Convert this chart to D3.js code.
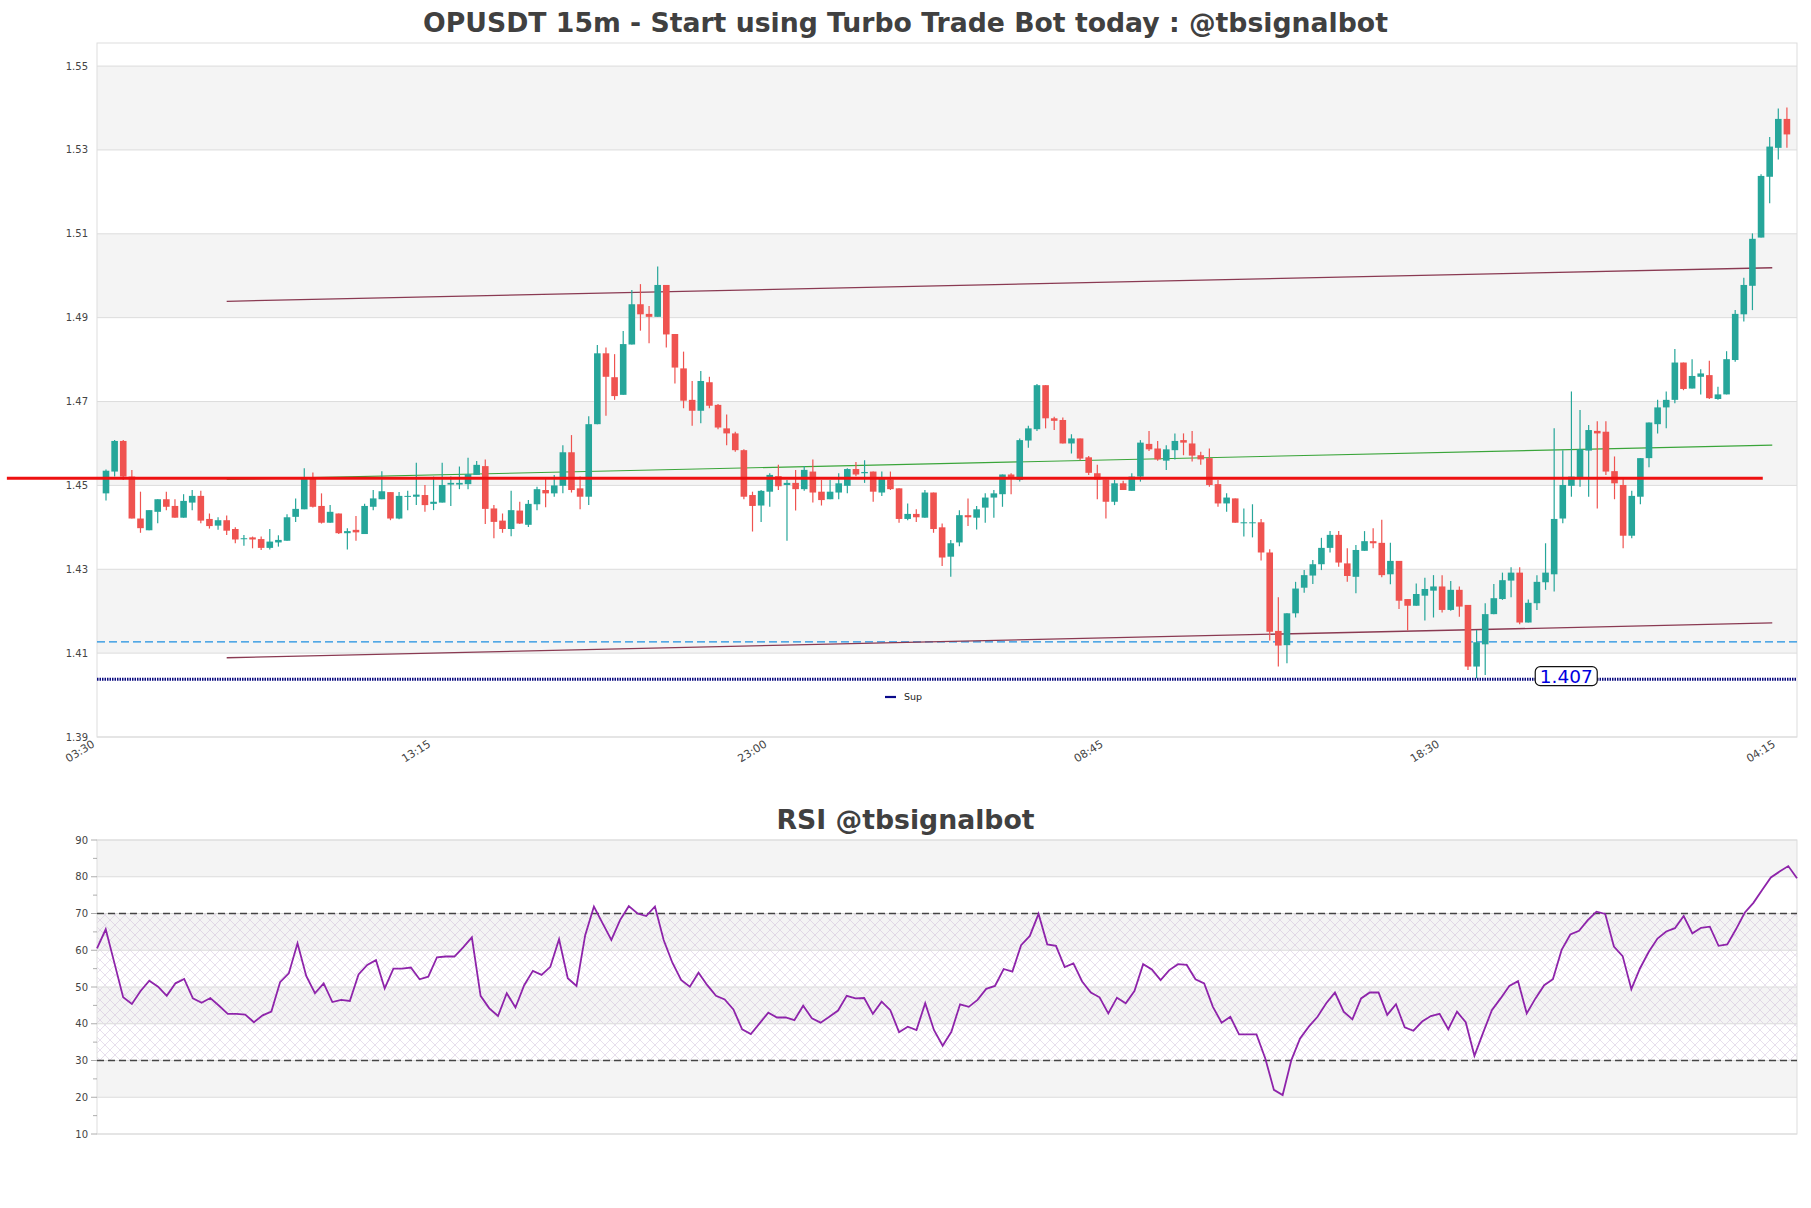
<!DOCTYPE html>
<html><head><meta charset="utf-8">
<script src="https://cdn.jsdelivr.net/npm/d3@7"></script>
<style>body{margin:0;background:#fff;} svg{display:block;font-family:"DejaVu Sans",sans-serif;}</style>
</head><body><svg id="c" width="1811" height="1208"></svg>
<script>
// ---------------- data ----------------
const opens=[1.4481,1.4533,1.4606,1.4521,1.4421,1.4393,1.4437,1.4467,1.4451,1.4423,1.4459,1.4475,1.4420,1.4404,1.4417,1.4396,1.4372,1.4376,1.4372,1.4351,1.4364,1.4368,1.4425,1.4443,1.4519,1.4451,1.4411,1.4433,1.4386,1.4394,1.4384,1.4449,1.4467,1.4484,1.4421,1.4473,1.4473,1.4477,1.4456,1.4459,1.4502,1.4502,1.4503,1.4525,1.4546,1.4445,1.4416,1.4396,1.4440,1.4406,1.4455,1.4489,1.4481,1.4499,1.4579,1.4493,1.4473,1.4646,1.4815,1.4758,1.4716,1.4836,1.4932,1.4909,1.4902,1.4978,1.4861,1.4779,1.4704,1.4678,1.4746,1.4692,1.4636,1.4624,1.4584,1.4477,1.4452,1.4485,1.4522,1.4501,1.4506,1.4491,1.4533,1.4485,1.4467,1.4483,1.4499,1.4539,1.4529,1.4533,1.4483,1.4514,1.4493,1.4420,1.4432,1.4423,1.4483,1.4400,1.4330,1.4364,1.4429,1.4423,1.4447,1.4471,1.4479,1.4526,1.4513,1.4607,1.4634,1.4739,1.4660,1.4656,1.4600,1.4612,1.4567,1.4529,1.4514,1.4461,1.4505,1.4487,1.4521,1.4599,1.4588,1.4559,1.4584,1.4608,1.4600,1.4572,1.4565,1.4503,1.4457,1.4469,1.4411,1.4411,1.4412,1.4340,1.4153,1.4119,1.4195,1.4256,1.4285,1.4312,1.4351,1.4382,1.4314,1.4282,1.4344,1.4367,1.4363,1.4288,1.4320,1.4229,1.4213,1.4237,1.4249,1.4259,1.4203,1.4251,1.4215,1.4068,1.4121,1.4193,1.4229,1.4273,1.4292,1.4173,1.4219,1.4269,1.4288,1.4421,1.4499,1.4517,1.4583,1.4630,1.4628,1.4534,1.4501,1.4380,1.4473,1.4565,1.4646,1.4686,1.4704,1.4793,1.4731,1.4759,1.4763,1.4706,1.4717,1.4799,1.4908,1.4976,1.5091,1.5236,1.5305,1.5374];
const highs=[1.4538,1.4608,1.4608,1.4537,1.4485,1.4441,1.4467,1.4485,1.4467,1.4479,1.4489,1.4487,1.4433,1.4424,1.4428,1.4400,1.4382,1.4378,1.4378,1.4396,1.4381,1.4431,1.4469,1.4541,1.4531,1.4481,1.4453,1.4433,1.4398,1.4427,1.4456,1.4489,1.4534,1.4484,1.4484,1.4487,1.4554,1.4501,1.4521,1.4554,1.4521,1.4545,1.4566,1.4558,1.4562,1.4453,1.4433,1.4487,1.4461,1.4465,1.4497,1.4517,1.4525,1.4596,1.4620,1.4521,1.4665,1.4835,1.4829,1.4813,1.4868,1.4966,1.4980,1.4928,1.5022,1.4978,1.4861,1.4819,1.4749,1.4773,1.4759,1.4694,1.4669,1.4628,1.4586,1.4485,1.4489,1.4529,1.4549,1.4513,1.4537,1.4546,1.4562,1.4513,1.4513,1.4529,1.4541,1.4556,1.4560,1.4533,1.4533,1.4533,1.4493,1.4457,1.4443,1.4489,1.4483,1.4409,1.4370,1.4441,1.4469,1.4451,1.4481,1.4489,1.4526,1.4529,1.4612,1.4642,1.4742,1.4739,1.4664,1.4662,1.4622,1.4612,1.4570,1.4549,1.4514,1.4513,1.4511,1.4529,1.4608,1.4630,1.4606,1.4596,1.4624,1.4624,1.4630,1.4580,1.4588,1.4513,1.4481,1.4469,1.4445,1.4455,1.4420,1.4348,1.4233,1.4195,1.4270,1.4298,1.4322,1.4375,1.4391,1.4391,1.4350,1.4358,1.4391,1.4398,1.4418,1.4363,1.4320,1.4229,1.4266,1.4280,1.4286,1.4286,1.4272,1.4259,1.4215,1.4155,1.4219,1.4265,1.4292,1.4305,1.4305,1.4228,1.4286,1.4362,1.4636,1.4584,1.4724,1.4680,1.4644,1.4653,1.4653,1.4569,1.4517,1.4487,1.4565,1.4650,1.4704,1.4724,1.4825,1.4793,1.4801,1.4777,1.4797,1.4735,1.4820,1.4918,1.4995,1.5101,1.5242,1.5331,1.5399,1.5401];
const lows=[1.4464,1.4521,1.4513,1.4421,1.4387,1.4393,1.4410,1.4441,1.4423,1.4423,1.4441,1.4410,1.4397,1.4394,1.4382,1.4362,1.4356,1.4350,1.4346,1.4347,1.4354,1.4368,1.4413,1.4443,1.4447,1.4409,1.4411,1.4384,1.4347,1.4368,1.4384,1.4441,1.4467,1.4417,1.4419,1.4441,1.4453,1.4437,1.4441,1.4459,1.4451,1.4491,1.4491,1.4525,1.4408,1.4374,1.4387,1.4379,1.4408,1.4401,1.4441,1.4448,1.4473,1.4481,1.4483,1.4443,1.4453,1.4646,1.4666,1.4704,1.4716,1.4836,1.4869,1.4839,1.4902,1.4829,1.4743,1.4684,1.4642,1.4648,1.4684,1.4634,1.4596,1.4580,1.4467,1.4390,1.4413,1.4449,1.4489,1.4368,1.4440,1.4487,1.4459,1.4452,1.4467,1.4467,1.4481,1.4522,1.4506,1.4461,1.4475,1.4489,1.4411,1.4417,1.4413,1.4423,1.4387,1.4308,1.4282,1.4355,1.4403,1.4395,1.4411,1.4423,1.4449,1.4479,1.4509,1.4590,1.4630,1.4636,1.4632,1.4600,1.4576,1.4560,1.4525,1.4467,1.4421,1.4453,1.4489,1.4487,1.4509,1.4582,1.4559,1.4537,1.4562,1.4572,1.4557,1.4549,1.4497,1.4449,1.4437,1.4411,1.4378,1.4376,1.4321,1.4130,1.4068,1.4076,1.4185,1.4244,1.4265,1.4298,1.4340,1.4306,1.4270,1.4243,1.4344,1.4350,1.4281,1.4264,1.4205,1.4154,1.4213,1.4178,1.4185,1.4197,1.4201,1.4187,1.4060,1.4040,1.4048,1.4193,1.4227,1.4233,1.4169,1.4173,1.4203,1.4251,1.4247,1.4410,1.4473,1.4497,1.4473,1.4445,1.4525,1.4467,1.4350,1.4374,1.4455,1.4543,1.4624,1.4636,1.4696,1.4727,1.4731,1.4717,1.4706,1.4704,1.4717,1.4795,1.4891,1.4918,1.5091,1.5173,1.5277,1.5305];
const closes=[1.4535,1.4606,1.4521,1.4421,1.4398,1.4441,1.4467,1.4449,1.4423,1.4463,1.4475,1.4416,1.4403,1.4417,1.4392,1.4371,1.4374,1.4371,1.4351,1.4366,1.4370,1.4424,1.4444,1.4517,1.4449,1.4411,1.4437,1.4386,1.4391,1.4388,1.4451,1.4469,1.4486,1.4421,1.4475,1.4475,1.4478,1.4453,1.4461,1.4501,1.4506,1.4506,1.4527,1.4549,1.4444,1.4413,1.4396,1.4441,1.4409,1.4456,1.4491,1.4481,1.4500,1.4579,1.4489,1.4473,1.4646,1.4815,1.4759,1.4713,1.4837,1.4932,1.4908,1.4902,1.4978,1.4860,1.4781,1.4702,1.4678,1.4749,1.4690,1.4638,1.4624,1.4584,1.4473,1.4451,1.4487,1.4525,1.4498,1.4506,1.4491,1.4537,1.4483,1.4465,1.4485,1.4505,1.4539,1.4526,1.4532,1.4485,1.4519,1.4491,1.4420,1.4432,1.4424,1.4483,1.4396,1.4328,1.4362,1.4429,1.4424,1.4443,1.4471,1.4481,1.4526,1.4517,1.4608,1.4636,1.4739,1.4660,1.4654,1.4600,1.4612,1.4564,1.4530,1.4514,1.4461,1.4505,1.4489,1.4521,1.4602,1.4586,1.4562,1.4586,1.4606,1.4602,1.4571,1.4562,1.4501,1.4457,1.4471,1.4411,1.4412,1.4412,1.4340,1.4151,1.4118,1.4195,1.4254,1.4286,1.4312,1.4351,1.4382,1.4316,1.4284,1.4346,1.4367,1.4362,1.4286,1.4320,1.4225,1.4213,1.4241,1.4253,1.4259,1.4203,1.4251,1.4211,1.4068,1.4126,1.4193,1.4231,1.4274,1.4292,1.4173,1.4220,1.4270,1.4292,1.4420,1.4501,1.4521,1.4586,1.4632,1.4624,1.4533,1.4505,1.4380,1.4475,1.4565,1.4650,1.4686,1.4704,1.4793,1.4730,1.4761,1.4767,1.4708,1.4717,1.4801,1.4909,1.4978,1.5088,1.5238,1.5308,1.5374,1.5337];
const rsiValues=[60.5,65.7,56.5,47.2,45.4,48.9,51.7,50.1,47.6,51.0,52.2,46.9,45.7,47.0,44.9,42.7,42.7,42.5,40.4,42.3,43.3,51.3,53.7,61.9,53.0,48.3,51.0,45.9,46.5,46.2,53.4,56.0,57.3,49.6,55.0,55.0,55.3,52.1,52.8,58.1,58.3,58.3,60.8,63.5,47.6,44.2,42.1,48.3,44.4,50.5,54.4,53.3,55.5,63.0,52.4,50.3,64.1,71.9,67.3,62.8,68.2,72.0,70.0,69.3,71.9,62.8,56.6,51.9,50.1,53.9,50.5,47.6,46.6,43.9,38.5,37.2,40.1,43.0,41.7,41.7,41.0,44.9,41.5,40.3,41.9,43.6,47.6,46.9,47.0,42.7,46.0,43.7,37.7,39.2,38.3,45.6,38.3,34.0,37.8,45.3,44.6,46.5,49.5,50.3,54.9,54.2,61.4,63.9,69.9,61.6,61.2,55.4,56.4,51.5,48.5,47.2,42.8,47.1,45.6,48.9,56.2,54.8,51.9,54.6,56.2,56.0,52.1,51.0,44.6,40.3,41.9,37.1,37.1,37.1,30.6,22.0,20.6,30.1,36.0,39.2,41.9,45.6,48.5,43.3,41.2,46.9,48.5,48.5,42.4,45.3,39.0,38.1,40.6,42.1,42.7,38.5,43.3,40.4,31.3,37.6,43.7,46.9,50.3,51.6,42.8,46.9,50.5,52.1,60.1,64.3,65.3,68.2,70.5,69.9,61.0,58.4,49.4,55.1,59.6,63.2,65.1,66.0,69.3,64.6,66.1,66.4,61.2,61.6,65.7,70.2,72.9,76.4,79.8,81.4,82.9,79.6];
const xTickIndex=[-1,38,77,116,155,194];
const xTickLabels=["03:30","13:15","23:00","08:45","18:30","04:15"];
const priceTicks=[1.39,1.41,1.43,1.45,1.47,1.49,1.51,1.53,1.55];
const rsiTicks=[10,20,30,40,50,60,70,80,90];
const rsiLevels=[30,70];
const redLevel={from:-11.5,to:192.2,price:1.4517};
const greenTrend={from:14,to:193.3,p0:1.4514,p1:1.4596};
const upperTrend={from:14,to:193.3,p0:1.4939,p1:1.5019};
const lowerTrend={from:14,to:193.3,p0:1.4089,p1:1.4172};
const dashedLevel=1.4127;
const supLevel=1.4038;
const supLabel={text:"1.407",at:169.4};
const legendLabel="Sup";
const mainTitle="OPUSDT 15m - Start using Turbo Trade Bot today : @tbsignalbot";
const rsiTitle="RSI @tbsignalbot";

// ---------------- layout ----------------
const svg=d3.select("#c");
const L=97,R=1797,T=43,B=737;
const RT=840,RB=1134;
const x=d3.scaleLinear().domain([-1.044,196.17]).range([L,R]);
const y=d3.scaleLinear().domain([1.39,1.5555]).range([B,T]);
const rx=d3.scaleLinear().domain([0,rsiValues.length-1]).range([L,R]);
const ry=d3.scaleLinear().domain([10,90]).range([RB,RT]);
const candles=opens.map((o,i)=>({i,o,h:highs[i],l:lows[i],c:closes[i]}));

const defs=svg.append("defs");
const pat=defs.append("pattern").attr("id","hatch").attr("width",10).attr("height",10).attr("patternUnits","userSpaceOnUse");
pat.append("path").attr("d","M0,0L10,10M10,0L0,10").attr("stroke","#c6b2d4").attr("stroke-width",0.6).attr("fill","none");

// titles
svg.append("text").attr("x",905.5).attr("y",32).attr("text-anchor","middle").attr("font-size",26.7).attr("font-weight","bold").attr("fill","#404040").text(mainTitle);
svg.append("text").attr("x",905.5).attr("y",829).attr("text-anchor","middle").attr("font-size",26.7).attr("font-weight","bold").attr("fill","#404040").text(rsiTitle);

// main bands & grid
for(let k=1;k<priceTicks.length-1;k+=2){
  svg.append("rect").attr("x",L).attr("width",R-L).attr("y",y(priceTicks[k+1])).attr("height",y(priceTicks[k])-y(priceTicks[k+1])).attr("fill","#f4f4f4");
}
svg.selectAll(".pg").data(priceTicks).enter().append("line").attr("x1",L).attr("x2",R).attr("y1",d=>y(d)).attr("y2",d=>y(d)).attr("stroke","#dcdcdc").attr("stroke-width",1);
svg.append("rect").attr("x",L).attr("y",T).attr("width",R-L).attr("height",B-T).attr("fill","none").attr("stroke","#dddddd");
svg.selectAll(".pl").data(priceTicks).enter().append("text").attr("x",88).attr("y",d=>y(d)).attr("dy","0.35em").attr("text-anchor","end").attr("font-size",10).attr("fill","#444").text(d=>d.toFixed(2));
svg.selectAll(".xl").data(xTickIndex).enter().append("text").attr("text-anchor","end").attr("font-size",11).attr("fill","#444")
  .attr("transform",d=>`translate(${x(d)-2},746) rotate(-32)`).text((d,k)=>xTickLabels[k]);

// levels
svg.append("line").attr("x1",L).attr("x2",R).attr("y1",y(dashedLevel)).attr("y2",y(dashedLevel)).attr("stroke","#1c8ee0").attr("stroke-width",1.3).attr("stroke-dasharray","8,4");
svg.append("line").attr("x1",L).attr("x2",R).attr("y1",y(supLevel)).attr("y2",y(supLevel)).attr("stroke","#08087e").attr("stroke-width",3).attr("stroke-dasharray","1.5,1");
[upperTrend,lowerTrend].forEach(t=>svg.append("line").attr("x1",x(t.from)).attr("x2",x(t.to)).attr("y1",y(t.p0)).attr("y2",y(t.p1)).attr("stroke","#8a3a52").attr("stroke-width",1.3));
svg.append("line").attr("x1",x(greenTrend.from)).attr("x2",x(greenTrend.to)).attr("y1",y(greenTrend.p0)).attr("y2",y(greenTrend.p1)).attr("stroke","#3aa53a").attr("stroke-width",1.1);

// candles
const up="#26a69a",dn="#ef5350",bw=6.6;
const g=svg.append("g");
g.selectAll(".w").data(candles).enter().append("line").attr("x1",d=>x(d.i)).attr("x2",d=>x(d.i)).attr("y1",d=>y(d.h)).attr("y2",d=>y(d.l)).attr("stroke",d=>d.c>=d.o?up:dn).attr("stroke-width",1.2);
g.selectAll(".b").data(candles).enter().append("rect").attr("x",d=>x(d.i)-bw/2).attr("width",bw)
  .attr("y",d=>y(Math.max(d.o,d.c))).attr("height",d=>Math.max(1,Math.abs(y(d.o)-y(d.c)))).attr("fill",d=>d.c>=d.o?up:dn);

// red level on top
svg.append("line").attr("x1",x(redLevel.from)).attr("x2",x(redLevel.to)).attr("y1",y(redLevel.price)).attr("y2",y(redLevel.price)).attr("stroke","#ee1111").attr("stroke-width",3);

// sup label
const lx=x(supLabel.at),ly=y(supLevel)-3;
svg.append("rect").attr("x",lx-31).attr("y",ly-9.5).attr("width",62).attr("height",19).attr("rx",5).attr("fill","#fff").attr("stroke","#111").attr("stroke-width",1.2);
svg.append("text").attr("x",lx).attr("y",ly).attr("dy","0.36em").attr("text-anchor","middle").attr("font-size",18.5).attr("fill","#0000e0").text(supLabel.text);

// legend
svg.append("line").attr("x1",885).attr("x2",896).attr("y1",697).attr("y2",697).attr("stroke","#0a0a8a").attr("stroke-width",2.2);
svg.append("text").attr("x",904).attr("y",697).attr("dy","0.35em").attr("font-size",9.5).attr("fill","#222").text(legendLabel);

// RSI panel
for(let k=1;k<rsiTicks.length-1;k+=2){
  svg.append("rect").attr("x",L).attr("width",R-L).attr("y",ry(rsiTicks[k+1])).attr("height",ry(rsiTicks[k])-ry(rsiTicks[k+1])).attr("fill","#f4f4f4");
}
svg.append("rect").attr("x",L).attr("width",R-L).attr("y",ry(rsiLevels[1])).attr("height",ry(rsiLevels[0])-ry(rsiLevels[1])).attr("fill","url(#hatch)").attr("opacity",0.7);
svg.selectAll(".rg").data(rsiTicks).enter().append("line").attr("x1",L).attr("x2",R).attr("y1",d=>ry(d)).attr("y2",d=>ry(d)).attr("stroke","#dcdcdc");
svg.append("rect").attr("x",L).attr("y",RT).attr("width",R-L).attr("height",RB-RT).attr("fill","none").attr("stroke","#dddddd");
svg.selectAll(".rl").data(rsiLevels).enter().append("line").attr("x1",L).attr("x2",R).attr("y1",d=>ry(d)).attr("y2",d=>ry(d)).attr("stroke","#444").attr("stroke-width",1.3).attr("stroke-dasharray","7,4");
svg.selectAll(".rt").data(rsiTicks).enter().append("text").attr("x",88).attr("y",d=>ry(d)).attr("dy","0.35em").attr("text-anchor","end").attr("font-size",10).attr("fill","#444").text(d=>d);
const minor=d3.range(10,91,5);
svg.selectAll(".rm").data(minor).enter().append("line").attr("x1",d=>d%10===0?91:93).attr("x2",L).attr("y1",d=>ry(d)).attr("y2",d=>ry(d)).attr("stroke","#999").attr("stroke-width",0.8);
svg.append("path").datum(rsiValues).attr("d",d3.line().x((d,j)=>rx(j)).y(d=>ry(d))).attr("fill","none").attr("stroke","#8e24aa").attr("stroke-width",1.8);
</script></body></html>
